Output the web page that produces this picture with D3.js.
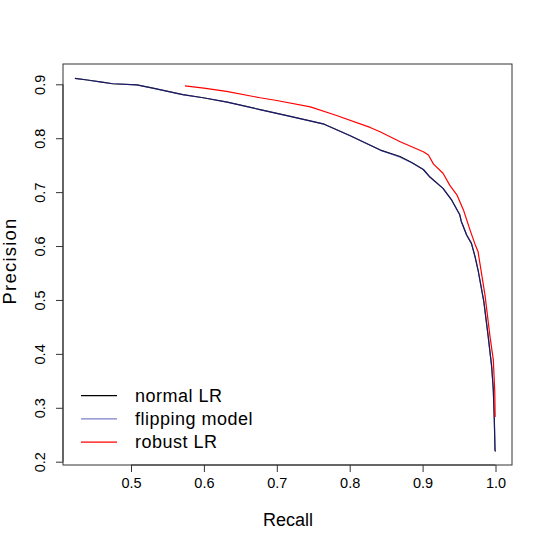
<!DOCTYPE html>
<html>
<head>
<meta charset="utf-8">
<script src="https://cdn.jsdelivr.net/npm/d3@7"></script>
<style>
  body { margin: 0; background: #fff; }
  text { font-family: "Liberation Sans", Arial, sans-serif; }
</style>
</head>
<body>
<div id="chart"></div>
<script>
// precision / recall values
const normalRecall = [0.423, 0.44, 0.46, 0.475, 0.508, 0.53, 0.571, 0.599, 0.632, 0.677, 0.72, 0.765, 0.80, 0.842, 0.869, 0.885, 0.901, 0.910, 0.928, 0.940, 0.951, 0.953, 0.9605, 0.967, 0.972, 0.976, 0.984, 0.990, 0.9948, 0.997, 0.9984, 0.9993, 1.0];
const normalPrecision = [0.911, 0.908, 0.904, 0.901, 0.899, 0.893, 0.881, 0.875, 0.867, 0.853, 0.840, 0.826, 0.805, 0.778, 0.766, 0.755, 0.742, 0.728, 0.707, 0.685, 0.658, 0.646, 0.620, 0.605, 0.580, 0.556, 0.497, 0.432, 0.376, 0.333, 0.277, 0.222, 0.219];

const flipRecall = [0.424, 0.44, 0.46, 0.475, 0.508, 0.53, 0.571, 0.599, 0.632, 0.677, 0.72, 0.765, 0.80, 0.842, 0.869, 0.886, 0.901, 0.911, 0.928, 0.940, 0.951, 0.953, 0.9605, 0.967, 0.972, 0.976, 0.984, 0.990, 0.9948, 0.997, 0.9984, 0.9993, 1.0];
const flipPrecision = [0.911, 0.908, 0.904, 0.901, 0.899, 0.893, 0.881, 0.875, 0.867, 0.853, 0.840, 0.826, 0.805, 0.778, 0.765, 0.754, 0.742, 0.727, 0.707, 0.685, 0.658, 0.646, 0.621, 0.605, 0.580, 0.556, 0.497, 0.432, 0.376, 0.333, 0.277, 0.222, 0.220];

const robustRecall = [0.574, 0.60, 0.631, 0.677, 0.70, 0.746, 0.78, 0.828, 0.8416, 0.87, 0.901, 0.908, 0.915, 0.928, 0.9376, 0.947, 0.956, 0.965, 0.972, 0.976, 0.9856, 0.9925, 0.997, 0.999, 0.9995];
const robustPrecision = [0.897, 0.893, 0.887, 0.875, 0.870, 0.858, 0.843, 0.820, 0.812, 0.793, 0.775, 0.769, 0.752, 0.735, 0.712, 0.695, 0.667, 0.630, 0.603, 0.590, 0.509, 0.432, 0.389, 0.330, 0.283];

const xTicks = [0.5, 0.6, 0.7, 0.8, 0.9, 1.0];
const yTicks = [0.2, 0.3, 0.4, 0.5, 0.6, 0.7, 0.8, 0.9];

const seriesNames = ["normal LR", "flipping model", "robust LR"];
const seriesColors = ["#000000", "#2828a8", "#ff0000"];
const seriesOpacity = [1, 0.6, 1];

const width = 545;
const height = 545;
const box = {left: 63, right: 512, top: 64, bottom: 465};

// mapped so the ticks land where the picture has them
const x = d3.scaleLinear().domain([0.5, 1.0]).range([131, 495.5]);
const y = d3.scaleLinear().domain([0.2, 0.9]).range([461.7, 84.3]);

const svg = d3.select("#chart").append("svg")
    .attr("width", width)
    .attr("height", height);

svg.append("rect")
    .attr("x", box.left)
    .attr("y", box.top)
    .attr("width", box.right - box.left)
    .attr("height", box.bottom - box.top)
    .attr("fill", "none")
    .attr("stroke", "#333")
    .attr("stroke-width", 1);

// x axis
const xAxis = svg.append("g")
    .attr("transform", `translate(0,${box.bottom})`)
    .call(d3.axisBottom(x).tickValues(xTicks).tickFormat(d3.format(".1f")).tickSize(7).tickPadding(6));
xAxis.select(".domain")
    .attr("d", `M${x(0.5)},0H${x(1.0)}`)
    .attr("stroke", "#333");
xAxis.selectAll(".tick line").attr("stroke", "#333");
xAxis.selectAll("text")
    .attr("font-size", 14.5)
    .attr("font-family", "Liberation Sans, Arial, sans-serif")
    .attr("fill", "#000");

// y axis, labels rotated like base R
const yAxis = svg.append("g")
    .attr("transform", `translate(${box.left},0)`)
    .call(d3.axisLeft(y).tickValues(yTicks).tickFormat(d3.format(".1f")).tickSize(7));
yAxis.select(".domain")
    .attr("d", `M0,${y(0.2)}V${y(0.9)}`)
    .attr("stroke", "#333");
yAxis.selectAll(".tick line").attr("stroke", "#333");
yAxis.selectAll("text")
    .attr("font-size", 14.5)
    .attr("font-family", "Liberation Sans, Arial, sans-serif")
    .attr("fill", "#000")
    .attr("x", 0)
    .attr("dy", null)
    .attr("text-anchor", "middle")
    .attr("transform", "translate(-18,0) rotate(-90)");

svg.append("text")
    .attr("x", 288)
    .attr("y", 526)
    .attr("text-anchor", "middle")
    .attr("font-size", 18)
    .text("Recall");

svg.append("text")
    .attr("transform", `translate(16,261) rotate(-90)`)
    .attr("text-anchor", "middle")
    .attr("font-size", 18.5)
    .attr("letter-spacing", 1.2)
    .text("Precision");

// curves
const line = d3.line()
    .x(d => x(d[0]))
    .y(d => y(d[1]));

const series = [
  d3.zip(normalRecall, normalPrecision),
  d3.zip(flipRecall, flipPrecision),
  d3.zip(robustRecall, robustPrecision)
];

series.forEach((pts, i) => {
  svg.append("path")
      .datum(pts)
      .attr("fill", "none")
      .attr("stroke", seriesColors[i])
      .attr("stroke-opacity", seriesOpacity[i])
      .attr("stroke-width", 1.2)
      .attr("stroke-linejoin", "round")
      .attr("d", line);
});

// legend
const legend = svg.append("g")
    .selectAll("g")
    .data(seriesNames)
    .join("g")
      .attr("transform", (d, i) => `translate(81,${395.7 + i * 23.2})`);

legend.append("line")
    .attr("x1", 0)
    .attr("x2", 36)
    .attr("stroke", (d, i) => seriesColors[i])
    .attr("stroke-opacity", (d, i) => seriesOpacity[i])
    .attr("stroke-width", 1.3);

legend.append("text")
    .attr("x", 54)
    .attr("dy", "0.35em")
    .attr("font-size", 18)
    .attr("letter-spacing", 0.5)
    .text(d => d);
</script>
</body>
</html>
